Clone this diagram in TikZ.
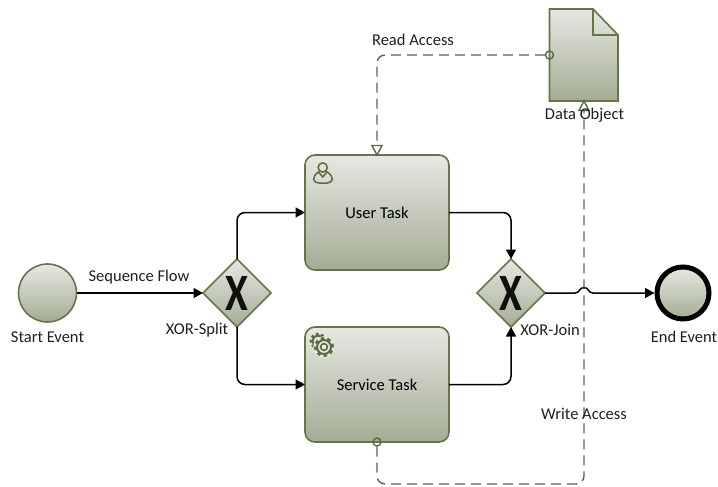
\documentclass[tikz,border=0pt]{standalone}
\usepackage{fontspec}
\setmainfont{Carlito}
\usetikzlibrary{arrows.meta,shapes.geometric}
\definecolor{edgeg}{HTML}{667548}
\definecolor{dashg}{HTML}{5A6644}
\definecolor{topg}{HTML}{E6E8E2}
\definecolor{botg}{HTML}{A4AC94}
\tikzset{
  shaded box/.style={draw=edgeg,line width=1.6pt,top color=topg,bottom color=botg,middle color=topg!50!botg,inner sep=0pt,outer sep=0pt},
  taskbox/.style={shaded box,rectangle,rounded corners=10pt,minimum width=144pt,minimum height=115pt,font=\fontsize{16.5}{18}\selectfont},
  gate/.style={shaded box,diamond,aspect=1,minimum width=68pt,minimum height=68pt},
  ev/.style={shaded box,circle,minimum size=58pt},
  flow/.style={draw=black,line width=1.5pt,rounded corners=8pt,-{Triangle[length=9.5pt,width=10pt]}},
  assoc/.style={draw=dashg,line width=1.4pt,rounded corners=8pt,dash pattern=on 10pt off 6pt},
  lab/.style={font=\fontsize{16.5}{18}\selectfont,inner sep=0pt,text=black!88},
  xmark/.style={font=\fontsize{30}{30}\selectfont\bfseries,inner sep=0pt,text=black!85!edgeg,yscale=1.75,xscale=1.38},
  opentip/.style={draw=dashg,fill=white,line width=1.4pt,line join=miter},
  socket/.style={draw=dashg,fill=none,line width=1.4pt,circle,minimum size=8pt,inner sep=0pt},
  iconline/.style={draw=edgeg!90!black,line width=1.5pt}
}
\begin{document}
\begin{tikzpicture}[x=1pt,y=-1pt]
\useasboundingbox (0,0) rectangle (718,487);
% nodes
\node[ev] (start) at (47.5,293) {};
\node[gate] (split) at (237,293) {};
\node[xmark] (splitx) at (237,293) {X};
\node[gate] (join) at (511,293) {};
\node[xmark] (joinx) at (511,293) {X};
\node[taskbox] (user) at (377,212.5) {User Task};
\node[taskbox] (service) at (377,384.5) {Service Task};
\node[ev,draw=black,line width=5pt,minimum size=52pt,outer sep=2.5pt] (end) at (683,293) {};
% data object
\coordinate (dA) at (549.5,9);
\coordinate (dB) at (593,9);
\coordinate (dC) at (618,35);
\coordinate (dD) at (618,101);
\coordinate (dE) at (549.5,101);
\coordinate (dF) at (593,35);
\path[shaded box] (dA) -- (dB) -- (dC) -- (dD) -- (dE) -- cycle;
\draw[edgeg,line width=1.6pt] (dB) -- (dF) -- (dC);
\coordinate (dataw) at (549.5,55);
\coordinate (datas) at (584,101);
% sequence flows
\draw[flow] (start.east) -- (split.west);
\draw[flow] (split.north) |- (user.west);
\draw[flow] (split.south) |- (service.west);
\draw[flow] (user.east) -| (join.north);
\draw[flow] (service.east) -| (join.south);
\coordinate (hopa) at (575,293);
\coordinate (hopb) at (593,293);
\draw[draw=black,line width=1.5pt,-{Triangle[length=9.5pt,width=10pt]}] (join.east) -- (hopa)
  .. controls (580,293) and (579,287.5) .. (584,287.5)
  .. controls (589,287.5) and (588,293) .. (hopb) -- (end.west);
% associations
\coordinate (userin) at (377,145);
\coordinate (datain) at (584,111);
\node[socket] (sockd) at (dataw) {};
\node[socket] (socks) at (service.south) {};
\draw[assoc] (sockd.west) -| (userin);
\draw[assoc] (socks.south) |- (584,484) -- (datain);
\path[opentip] (372,145.5) -- (382,145.5) -- (377,155) -- cycle;
\path[opentip] (579,110.5) -- (589,110.5) -- (584,101) -- cycle;
% user icon
\draw[iconline] (322.7,167.5) circle (4.6pt);
\draw[iconline] (318.5,172) .. controls (311,177) and (313,183) .. (319,183) -- (327,183)
  .. controls (333,183) and (335,177) .. (327,172) -- (322.7,177) -- cycle;
% gear icons
\draw[edgeg!90!black,line width=2.6pt,dash pattern=on 2.6pt off 2.6pt] (318,341) circle (7pt);
\draw[edgeg!90!black,line width=2pt] (318,341) circle (5.6pt);
\fill[topg] (324,347) circle (10.8pt);
\draw[edgeg!90!black,line width=3pt,dash pattern=on 3.3pt off 3.3pt] (324,347) circle (8.5pt);
\draw[edgeg!90!black,line width=2pt] (324,347) circle (7pt);
\draw[edgeg!90!black,line width=1.6pt] (324,347) circle (3.4pt);
% labels
\node[lab] (lread) at (413,40) {Read Access};
\node[lab] (ldata) at (584.5,115) {Data Object};
\node[lab] (lseq) at (139,277) {Sequence Flow};
\node[lab] (lstart) at (47.5,337) {Start Event};
\node[lab] (lsplit) at (197,330) {XOR-Split};
\node[lab] (ljoin) at (550,330) {XOR-Join};
\node[lab] (lwrite) at (584,414) {Write Access};
\node[lab] (lend) at (684,337) {End Event};
\end{tikzpicture}
\end{document}
